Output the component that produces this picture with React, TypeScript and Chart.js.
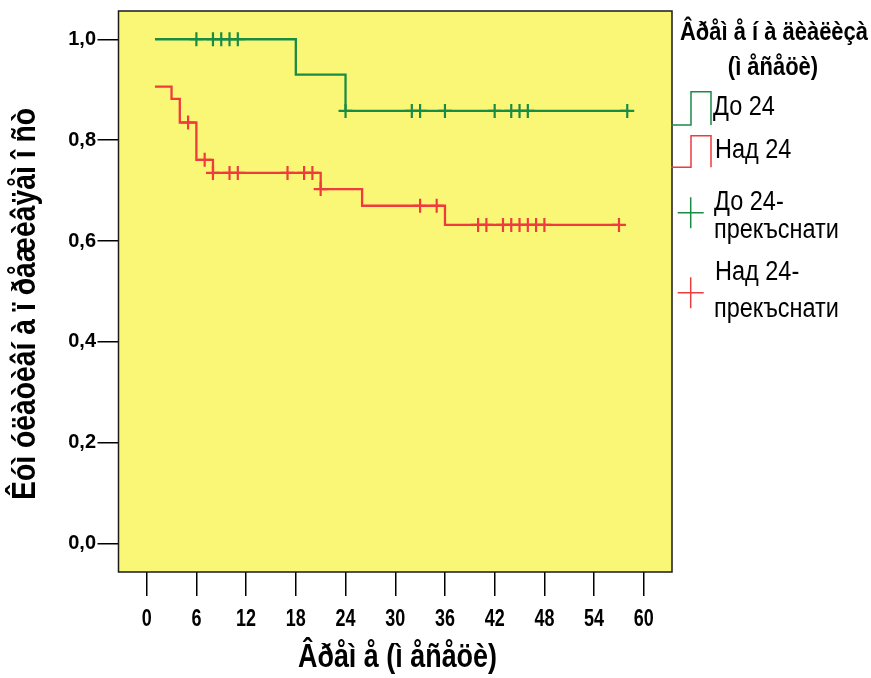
import React, { useEffect, useRef } from "react";
import { Chart, registerables } from "chart.js";

Chart.register(...registerables);

// ---- data ----
const xTicks = [0, 6, 12, 18, 24, 30, 36, 42, 48, 54, 60];
const xTickLabels = ["0", "6", "12", "18", "24", "30", "36", "42", "48", "54", "60"];
const yTicks = [0, 0.2, 0.4, 0.6, 0.8, 1.0];
const yTickLabels = ["0,0", "0,2", "0,4", "0,6", "0,8", "1,0"];

const greenTimes = [1, 18, 24, 58];
const greenSurv = [1.0, 0.93, 0.858, 0.858];
const redTimes = [1, 3, 4, 6, 8, 21, 26, 36, 57];
const redSurv = [0.906, 0.882, 0.835, 0.761, 0.735, 0.703, 0.67, 0.632, 0.632];

const greenCensTimes = [6, 8, 9, 10, 11, 24, 32, 33, 36, 42, 44, 45, 46, 58];
const greenCensSurv = [1, 1, 1, 1, 1, 0.858, 0.858, 0.858, 0.858, 0.858, 0.858, 0.858, 0.858, 0.858];
const redCensTimes = [5, 7, 8, 10, 11, 17, 19, 20, 21, 33, 35, 40, 41, 43, 44, 45, 46, 47, 48, 57];
const redCensSurv = [0.835, 0.761, 0.735, 0.735, 0.735, 0.735, 0.735, 0.735, 0.703, 0.67, 0.67, 0.632, 0.632, 0.632, 0.632, 0.632, 0.632, 0.632, 0.632, 0.632];

const seriesLabels = ["До 24", "Над 24", "До 24-", "Над 24-"];
const censSuffix = "прекъснати";
const legendTitle = ["Âðåì å í à äèàëèçà", "(ì åñåöè)"];
const xTitle = "Âðåì å (ì åñåöè)";
const yTitle = "Êóì óëàòèâí à ï ðåæèâÿåì î ñò";

const GREEN = "#1A8B45";
const RED = "#EF3B3E";
const YELLOW = "#FAF776";
const SANS = '"Liberation Sans", Arial, sans-serif';

const pts = (xs: number[], ys: number[]) => xs.map((x, i) => ({ x, y: ys[i] }));

// draw horizontally condensed text (emulating a narrow font)
function drawText(ctx: any, text: string, x: number, y: number, font: string, sx: number, align: string, rot = 0) {
  ctx.save();
  ctx.font = font;
  ctx.textAlign = align;
  ctx.textBaseline = "middle";
  ctx.translate(x, y);
  if (rot) ctx.rotate(rot);
  ctx.scale(sx, 1);
  ctx.fillText(text, 0, 0);
  ctx.restore();
}
function fitScale(ctx: any, text: string, font: string, target: number) {
  ctx.save();
  ctx.font = font;
  const w = ctx.measureText(text).width;
  ctx.restore();
  return Math.min(1, target / w);
}

const decorPlugin = {
  id: "decor",
  beforeDraw(chart: any) {
    const { ctx, chartArea: a } = chart;
    ctx.save();
    ctx.fillStyle = "#fff";
    ctx.fillRect(0, 0, chart.width, chart.height);
    ctx.fillStyle = YELLOW;
    ctx.fillRect(a.left, a.top, a.right - a.left, a.bottom - a.top);
    ctx.restore();
  },
  afterDraw(chart: any) {
    const { ctx, chartArea: a } = chart;
    ctx.save();
    ctx.strokeStyle = "#1a1a1a";
    ctx.lineWidth = 1.5;
    ctx.strokeRect(a.left, a.top, a.right - a.left, a.bottom - a.top);
    ctx.fillStyle = "#000";

    // x tick labels (condensed bold), positioned by the x scale
    const xs = chart.scales.x;
    const tickFont = `bold 23px ${SANS}`;
    const tsx = fitScale(ctx, "60", tickFont, 20);
    xTicks.forEach((v, i) => {
      drawText(ctx, xTickLabels[i], xs.getPixelForValue(v), 620, tickFont, tsx, "center");
    });

    // axis titles
    const titleFont = `bold 33px ${SANS}`;
    drawText(ctx, xTitle, 397.5, 658, titleFont, fitScale(ctx, xTitle, titleFont, 199), "center");
    drawText(ctx, yTitle, 26, 304, titleFont, fitScale(ctx, yTitle, titleFont, 392), "center", -Math.PI / 2);

    // legend title
    const ltFont = `bold 26px ${SANS}`;
    const lsx = fitScale(ctx, legendTitle[0], ltFont, 188);
    drawText(ctx, legendTitle[0], 774, 33, ltFont, lsx, "center");
    drawText(ctx, legendTitle[1], 773, 68, ltFont, lsx, "center");

    // legend symbols
    ctx.lineWidth = 1.5;
    const step = (color: string, yLow: number, yHigh: number) => {
      ctx.strokeStyle = color;
      ctx.beginPath();
      ctx.moveTo(671, yLow);
      ctx.lineTo(691, yLow);
      ctx.lineTo(691, yHigh);
      ctx.lineTo(711, yHigh);
      ctx.lineTo(711, yLow);
      ctx.stroke();
    };
    step(GREEN, 125, 91.7);
    step(RED, 167.3, 135.7);
    const cross = (color: string, cx: number, cy: number) => {
      ctx.strokeStyle = color;
      ctx.beginPath();
      ctx.moveTo(cx - 13, cy);
      ctx.lineTo(cx + 13, cy);
      ctx.moveTo(cx, cy - 15.5);
      ctx.lineTo(cx, cy + 15.5);
      ctx.stroke();
    };
    cross(GREEN, 690.7, 212.7);
    cross(RED, 690.7, 292.7);

    const itFont = `27px ${SANS}`;
    const isx = fitScale(ctx, censSuffix, itFont, 125);
    drawText(ctx, seriesLabels[0], 713, 108, itFont, isx, "left");
    drawText(ctx, seriesLabels[1], 715, 151, itFont, isx, "left");
    drawText(ctx, seriesLabels[2], 714, 203, itFont, isx, "left");
    drawText(ctx, censSuffix, 714, 231, itFont, isx, "left");
    drawText(ctx, seriesLabels[3], 715, 273, itFont, isx, "left");
    drawText(ctx, censSuffix, 714, 310, itFont, isx, "left");
    ctx.restore();
  },
};

export default function App() {
  const ref = useRef<HTMLCanvasElement | null>(null);
  useEffect(() => {
    document.body.style.margin = "0";
    const canvas = ref.current!;
    const chart = new Chart(canvas, {
      type: "scatter",
      data: {
        datasets: [
          {
            label: seriesLabels[0],
            data: pts(greenTimes, greenSurv),
            showLine: true,
            stepped: true,
            borderColor: GREEN,
            borderWidth: 2.3,
            pointRadius: 0,
            fill: false,
          },
          {
            label: seriesLabels[1],
            data: pts(redTimes, redSurv),
            showLine: true,
            stepped: true,
            borderColor: RED,
            borderWidth: 2.3,
            pointRadius: 0,
            fill: false,
          },
          {
            label: seriesLabels[2] + censSuffix,
            data: pts(greenCensTimes, greenCensSurv),
            showLine: false,
            pointStyle: "cross",
            pointRadius: 7,
            pointBorderWidth: 2.2,
            borderColor: GREEN,
            backgroundColor: GREEN,
          },
          {
            label: seriesLabels[3] + censSuffix,
            data: pts(redCensTimes, redCensSurv),
            showLine: false,
            pointStyle: "cross",
            pointRadius: 7,
            pointBorderWidth: 2.2,
            borderColor: RED,
            backgroundColor: RED,
          },
        ] as any,
      },
      options: {
        responsive: false,
        animation: false,
        events: [],
        layout: { padding: { left: 0, top: 11, right: 199, bottom: 0 } },
        plugins: { legend: { display: false }, tooltip: { enabled: false } },
        scales: {
          x: {
            type: "linear",
            min: -3.4,
            max: 63.4,
            afterBuildTicks: (s: any) => {
              s.ticks = xTicks.map((v) => ({ value: v }));
            },
            afterFit: (s: any) => {
              s.height = 106;
              s.paddingLeft = 0;
              s.paddingRight = 0;
            },
            ticks: { display: false, autoSkip: false, maxRotation: 0 },
            grid: { drawOnChartArea: false, tickLength: 24, color: "#000", lineWidth: 1.5 },
            border: { display: false },
          },
          y: {
            type: "linear",
            min: -0.056,
            max: 1.056,
            afterBuildTicks: (s: any) => {
              s.ticks = yTicks.map((v) => ({ value: v }));
            },
            afterFit: (s: any) => {
              s.width = 118.5;
              s.paddingTop = 0;
              s.paddingBottom = 0;
            },
            ticks: {
              autoSkip: false,
              padding: 1.5,
              color: "#000",
              font: { family: SANS, weight: "bold", size: 20 },
              callback: (_v: any, i: number) => yTickLabels[i],
            },
            grid: { drawOnChartArea: false, tickLength: 21, color: "#000", lineWidth: 1.5 },
            border: { display: false },
          },
        },
      } as any,
      plugins: [decorPlugin],
    });
    return () => chart.destroy();
  }, []);
  return (
    <div style={{ position: "absolute", left: 0, top: 0, width: 871, height: 678 }}>
      <canvas ref={ref} width={871} height={678} style={{ width: 871, height: 678, display: "block" }} />
    </div>
  );
}
